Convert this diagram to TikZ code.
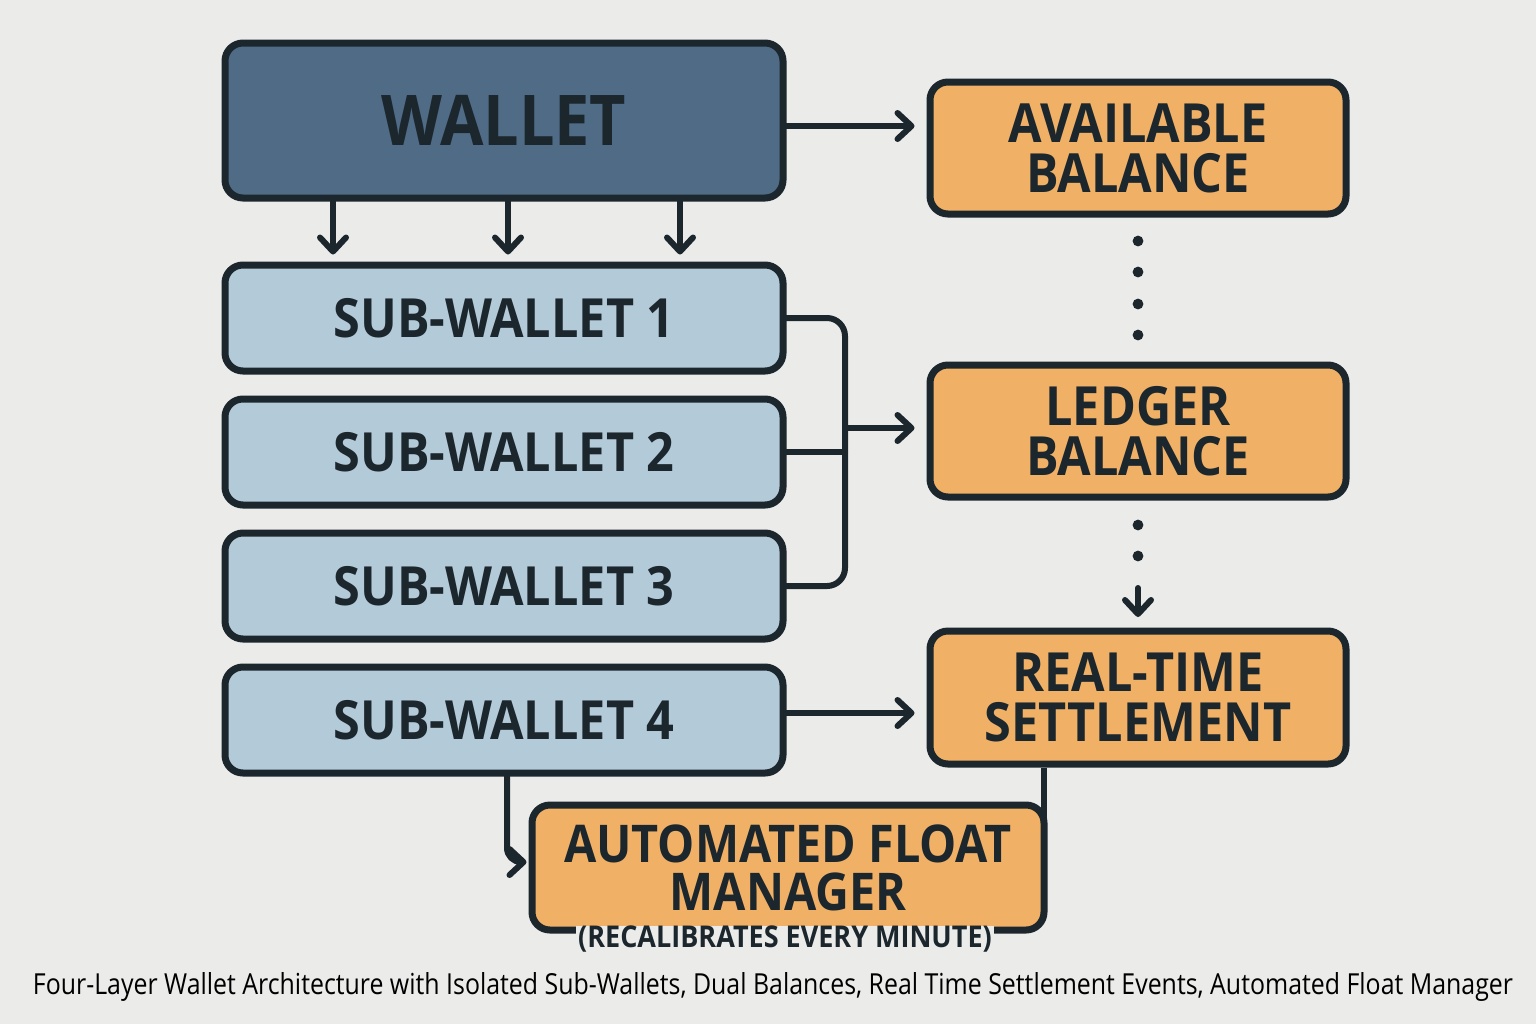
\documentclass[tikz,border=0pt]{standalone}
\usepackage{fontspec}
\setmainfont[FakeStretch=0.9]{Open Sans}
\newfontfamily\capfont[FakeStretch=0.92]{Open Sans}
\usetikzlibrary{arrows.meta}
\definecolor{bg}{HTML}{EBEBE9}
\definecolor{dark}{HTML}{1C262D}
\definecolor{walletc}{HTML}{4F6B86}
\definecolor{subc}{HTML}{B3CAD8}
\definecolor{orangec}{HTML}{F0B066}
\begin{document}
\begin{tikzpicture}[x=0.5pt,y=-0.5pt,
  box/.style={draw=dark, line width=3.5pt, rounded corners=9pt, inner sep=0pt, align=center, text=dark, font=\bfseries\fontsize{27}{25}\selectfont},
  wbox/.style={box, fill=walletc, minimum width=279pt, minimum height=77.5pt, font=\bfseries\fontsize{35}{36}\selectfont},
  sbox/.style={box, fill=subc, minimum width=279pt, minimum height=53pt},
  obox/.style={box, fill=orangec, minimum width=208pt, minimum height=66pt},
  conn/.style={draw=dark, line width=3pt, line cap=round, line join=round},
  arr/.style={conn, -{Straight Barb[length=7pt, width=13pt, round]}},
  dot/.style={fill=dark}]
\useasboundingbox[fill=bg] (0,0) rectangle (1536,1024);

\node[wbox] (wallet) at (504,120.5) {WALLET};
\node[obox] (avail) at (1138,148) {AVAILABLE\\BALANCE};
\node[obox] (ledger) at (1138,431) {LEDGER\\BALANCE};
\node[obox, minimum height=66.5pt] (rt) at (1138,697.5) {REAL-TIME\\SETTLEMENT};
\node[sbox] (sw1) at (504,318) {SUB-WALLET 1};
\node[sbox] (sw2) at (504,452) {SUB-WALLET 2};
\node[sbox] (sw3) at (504,586) {SUB-WALLET 3};
\node[sbox] (sw4) at (504,720) {SUB-WALLET 4};

% connectors
\draw[arr] (wallet.east |- 0,126) -- ([xshift=-6pt]avail.west |- 0,126);
\foreach \x in {333,508,680}
  \draw[arr] (wallet.south -| \x,0) -- ([yshift=3.5pt]sw1.north -| \x,0);
\draw[conn, rounded corners=9pt] (sw1.east) -- (845,318) -- (845,586) -- (sw3.east);
\draw[conn] (sw2.east) -- (845,452);
\draw[arr] (845,428) -- ([xshift=-6pt]ledger.west |- 0,428);
\draw[arr] (sw4.east |- 0,713) -- ([xshift=-6pt]rt.west |- 0,713);
\foreach \y in {241,272,304,335} \fill[dot] (1138,\y) circle (2.7pt);
\foreach \y in {525,556} \fill[dot] (1138,\y) circle (2.7pt);
\coordinate (ltip) at (1138,617);
\draw[arr] (1138,588) -- (ltip);

\node[box, fill=orangec, minimum width=256pt, minimum height=62.5pt, font=\bfseries\fontsize{26}{24}\selectfont] (afm) at (788,867.5) {AUTOMATED FLOAT\\MANAGER};
\draw[conn, line cap=butt] (rt.south -| 1043.5,0) -- (1043.5,830);
\draw[arr, rounded corners=7pt] (sw4.south -| 507,0) -- (507,862) -- ([xshift=-1pt]afm.west |- 0,862);
\node[fill=bg, inner xsep=1pt, inner ysep=0pt, text=dark, font=\bfseries\fontsize{15}{15}\selectfont] (sub) at (785,939) {(RECALIBRATES EVERY MINUTE)};

\node[text=black, inner sep=0pt] (cap) at (773,987) {\resizebox{740pt}{11pt}{\capfont Four-Layer Wallet Architecture with Isolated Sub-Wallets, Dual Balances, Real Time Settlement Events, Automated Float Manager}};
\end{tikzpicture}
\end{document}
